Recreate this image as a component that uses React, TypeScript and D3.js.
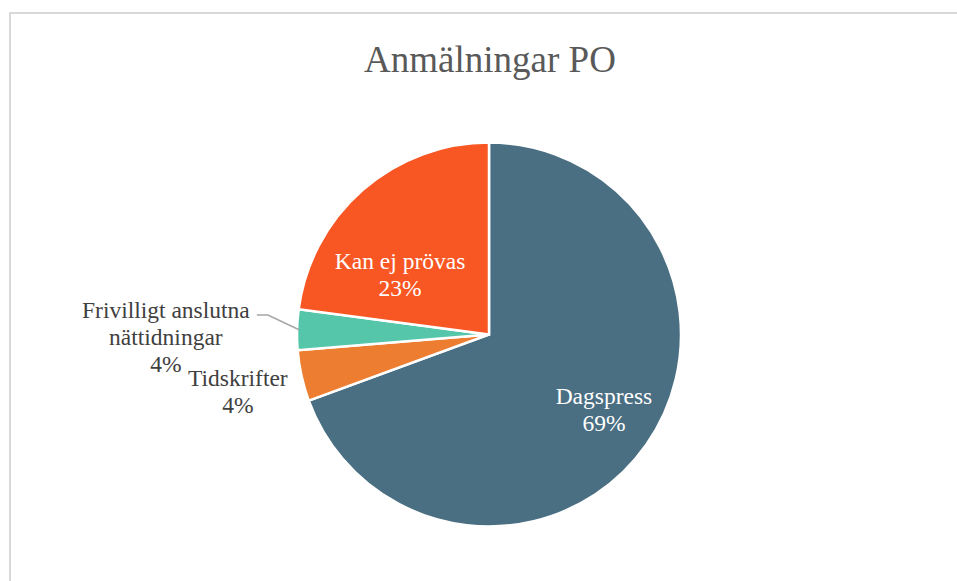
import React from "react";
import * as d3 from "d3";

const categories = ["Dagspress", "Tidskrifter", "Frivilligt anslutna nättidningar", "Kan ej prövas"];
const values = [69.4, 4.3, 3.4, 22.9];
const percentLabels = ["69%", "4%", "4%", "23%"];
const colors = ["#4a6e82", "#ed7d31", "#55c6a9", "#f85623"];
const labelLines = [["Dagspress", "69%"], ["Tidskrifter", "4%"], ["Frivilligt anslutna", "nättidningar", "4%"], ["Kan ej prövas", "23%"]];

const W = 957;
const H = 581;
const cx = 489;
const cy = 334.5;
const R = 192;
const FONT = "'Liberation Serif', 'Times New Roman', serif";

export default function App() {
  const pie = d3.pie<number>().sort(null).value((d) => d)(values);
  const arc = d3.arc<d3.PieArcDatum<number>>().innerRadius(0).outerRadius(R);
  const labelCfg = [
    { rf: 0.73, dx: 0, dy: -5, inside: true },
    { rf: 1.27, dx: -13, dy: 5, inside: false },
    { rf: 1.72, dx: 7, dy: 11, inside: false },
    { rf: 0.6, dx: -13, dy: 27, inside: true },
  ];
  const fs = 23.5;
  const lh = 27;
  const pos = pie.map((p, i) => {
    const cfg = labelCfg[i];
    const mid = (p.startAngle + p.endAngle) / 2;
    const r = R * cfg.rf;
    return { x: Math.sin(mid) * r + cfg.dx, y: -Math.cos(mid) * r + cfg.dy, mid };
  });
  const fp = pos[2];
  const fBase = fp.y - lh + fs * 0.33;
  const ex = Math.sin(fp.mid) * (R - 2);
  const ey = -Math.cos(fp.mid) * (R - 2);
  return (
    <svg width={W} height={H} style={{ position: "absolute", left: 0, top: 0, display: "block" }} fontFamily={FONT}>
      <rect x={0} y={0} width={W} height={H} fill="#ffffff" />
      <rect x={10} y={13} width={W + 20} height={H + 20} fill="#ffffff" stroke="#d9d9d9" strokeWidth={2} />
      <text x={490} y={72} textAnchor="middle" fontSize={37} fill="#595959" fontFamily={FONT}>Anmälningar PO</text>
      <g transform={`translate(${cx},${cy})`}>
        {pie.map((p, i) => (
          <path key={i} d={arc(p) || ""} fill={colors[i]} stroke="#ffffff" strokeWidth={2.5} />
        ))}
        <polyline points={`${fp.x + 91},${fBase - 3} ${fp.x + 102},${fBase - 3} ${ex},${ey}`} fill="none" stroke="#a6a6a6" strokeWidth={1.5} />
        {pie.map((p, i) => {
          const cfg = labelCfg[i];
          const { x: lx, y: ly } = pos[i];
          const lines = labelLines[i];
          const n = lines.length;
          return (
            <text key={"l" + i} x={lx} y={ly} textAnchor="middle" fontSize={fs} fontFamily={FONT} fill={cfg.inside ? "#ffffff" : "#404040"}>
              {lines.map((t, j) => (
                <tspan key={j} x={lx} y={ly + (j - (n - 1) / 2) * lh + fs * 0.33}>{t}</tspan>
              ))}
            </text>
          );
        })}
      </g>
    </svg>
  );
}
